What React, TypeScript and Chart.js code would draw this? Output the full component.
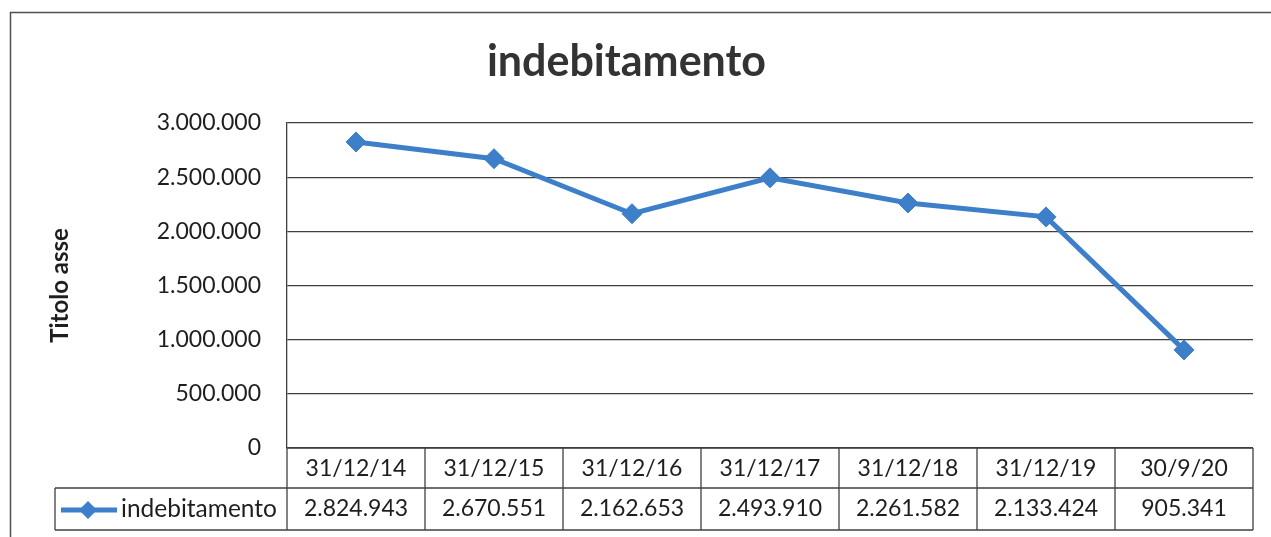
import { useEffect, useRef } from 'react';
import { Chart, registerables } from 'chart.js';

Chart.register(...registerables);

const chartTitle = 'indebitamento';
const axisTitle = 'Titolo asse';
const seriesName = 'indebitamento';
const categories = ['31/12/14', '31/12/15', '31/12/16', '31/12/17', '31/12/18', '31/12/19', '30/9/20'];
const values = [2824943, 2670551, 2162653, 2493910, 2261582, 2133424, 905341];
const yMin = 0;
const yMax = 3000000;
const yStep = 500000;

const BLUE = '#3d7fc9';
const GRID = '#3f3f3f';
const TEXT = '#1e1e1e';
const FONT = 'Lato, "Open Sans", sans-serif';

const fmt = (v: number) => Math.round(v).toString().replace(/\B(?=(\d{3})+(?!\d))/g, '.');

const framePlugin = {
  id: 'frame',
  beforeDraw(chart: any) {
    const { ctx, width, height } = chart;
    ctx.save();
    ctx.fillStyle = '#ffffff';
    ctx.fillRect(0, 0, width, height);
    ctx.strokeStyle = '#505050';
    ctx.lineWidth = 1.5;
    ctx.beginPath();
    ctx.moveTo(10.5, height);
    ctx.lineTo(10.5, 12.5);
    ctx.lineTo(width, 12.5);
    ctx.stroke();
    ctx.restore();
  },
};

const tablePlugin = {
  id: 'dataTable',
  afterDraw(chart: any) {
    const { ctx, chartArea } = chart;
    const xScale = chart.scales.x;
    const n = categories.length;
    const left = chartArea.left;
    const right = chartArea.right;
    const colW = (right - left) / n;
    const top1 = chartArea.bottom;
    const top2 = top1 + 40;
    const bottom = top2 + 42;
    const legendLeft = 55;
    ctx.save();
    ctx.strokeStyle = GRID;
    ctx.lineWidth = 1.3;
    const seg = (x1: number, y1: number, x2: number, y2: number) => {
      ctx.beginPath();
      ctx.moveTo(x1, y1);
      ctx.lineTo(x2, y2);
      ctx.stroke();
    };
    seg(left, top1, right, top1);
    seg(legendLeft, top2, right, top2);
    seg(legendLeft, bottom, right, bottom);
    for (let i = 0; i <= n; i++) {
      const x = left + i * colW;
      seg(x, top1, x, bottom);
    }
    seg(legendLeft, top2, legendLeft, bottom);

    ctx.fillStyle = TEXT;
    ctx.font = `23px ${FONT}`;
    ctx.textAlign = 'center';
    ctx.textBaseline = 'middle';
    categories.forEach((c, i) => {
      ctx.fillText(c, xScale.getPixelForValue(i), (top1 + top2) / 2 + 1);
    });
    values.forEach((v, i) => {
      ctx.fillText(fmt(v), xScale.getPixelForValue(i), (top2 + bottom) / 2);
    });

    // legend key
    const my = (top2 + bottom) / 2 + 1;
    ctx.strokeStyle = BLUE;
    ctx.lineWidth = 5;
    seg(61, my, 117, my);
    ctx.fillStyle = BLUE;
    ctx.beginPath();
    const cx = 88;
    const r = 9;
    ctx.moveTo(cx, my - r);
    ctx.lineTo(cx + r, my);
    ctx.lineTo(cx, my + r);
    ctx.lineTo(cx - r, my);
    ctx.closePath();
    ctx.fill();
    ctx.fillStyle = TEXT;
    ctx.font = `24.5px ${FONT}`;
    ctx.textAlign = 'left';
    ctx.fillText(seriesName, 121, my - 1);
    ctx.restore();
  },
};

export default function App() {
  const ref = useRef<HTMLCanvasElement | null>(null);
  useEffect(() => {
    if (!ref.current) return;
    const chart = new Chart(ref.current, {
      type: 'line',
      data: {
        labels: categories,
        datasets: [
          {
            label: seriesName,
            data: values,
            borderColor: BLUE,
            backgroundColor: BLUE,
            borderWidth: 5,
            pointStyle: 'rectRot',
            pointRadius: 10,
            pointBackgroundColor: BLUE,
            pointBorderColor: BLUE,
            pointBorderWidth: 1,
            tension: 0,
          },
        ],
      },
      options: {
        responsive: false,
        animation: false,
        devicePixelRatio: 1,
        layout: { padding: { left: 0, right: 18, top: 0, bottom: 0 } },
        plugins: {
          legend: { display: false },
          tooltip: { enabled: false },
          title: {
            display: true,
            text: chartTitle,
            color: '#333333',
            font: { family: FONT, size: 43, weight: 'bold' },
            padding: { top: 36, bottom: 35.4 },
          },
        },
        scales: {
          x: {
            type: 'category',
            offset: true,
            grid: { display: false },
            border: { display: false },
            ticks: { display: false },
            afterFit: (scale: any) => {
              scale.height = 89;
            },
          },
          y: {
            min: yMin,
            max: yMax,
            grid: { color: GRID, lineWidth: 1.3, drawTicks: false },
            border: { display: true, color: GRID, width: 1.3 },
            ticks: {
              stepSize: yStep,
              padding: 26,
              color: TEXT,
              font: { family: FONT, size: 23 },
              callback: (v: any) => fmt(Number(v)),
            },
            title: {
              display: true,
              text: axisTitle,
              color: TEXT,
              font: { family: FONT, size: 24, weight: 'bold' },
              padding: { top: 46, bottom: 0 },
            },
            afterFit: (scale: any) => {
              scale.width = 287;
            },
          },
        },
      },
      plugins: [framePlugin, tablePlugin],
    });
    return () => chart.destroy();
  }, []);
  return (
    <div style={{ position: 'absolute', left: 0, top: 0, width: 1271, height: 537 }}>
      <canvas ref={ref} width={1271} height={537} />
    </div>
  );
}
